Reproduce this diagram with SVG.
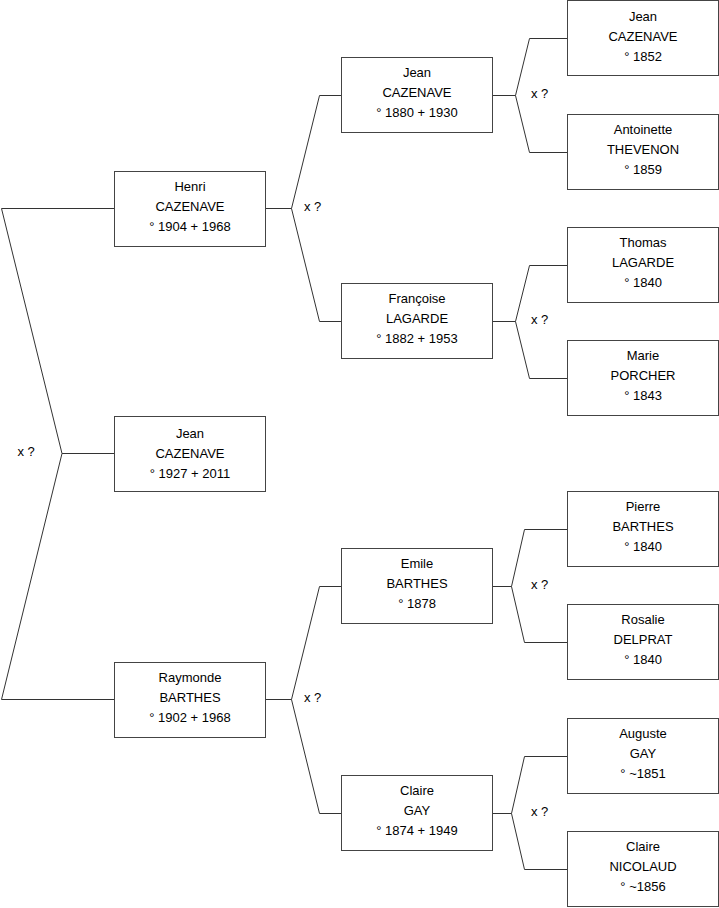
<svg xmlns="http://www.w3.org/2000/svg" width="719" height="908" viewBox="0 0 719 908">
<style>
.box{fill:#fff;stroke:#444;stroke-width:1}
.c{fill:none;stroke:#333;stroke-width:1}
text{font-family:"Liberation Sans",Arial,sans-serif;font-size:13px;fill:#000}
.n text{text-anchor:middle}
</style>
<rect width="719" height="908" fill="#fff"/>
<g id="connectors">
<path class="c" d="M114,208.5 H1.5 L62,453.5 L1.5,699.5 H114 M62,453.5 H114"/>
<path class="c" d="M265,208.5 H291.5 L319.5,95.5 H341 M291.5,208.5 L319.5,321.5 H341"/>
<path class="c" d="M265,699.5 H291.5 L319.5,586.5 H341 M291.5,699.5 L319.5,813.5 H341"/>
<path class="c" d="M492,95.5 H515.5 L529.5,38.5 H567 M515.5,95.5 L529.5,152.5 H567"/>
<path class="c" d="M492,321.5 H515.5 L529.5,265.5 H567 M515.5,321.5 L529.5,378.5 H567"/>
<path class="c" d="M492,586.5 H511.5 L524.5,529.5 H567 M511.5,586.5 L524.5,642.5 H567"/>
<path class="c" d="M492,813.5 H511.5 L524.5,756.5 H567 M511.5,813.5 L524.5,869.5 H567"/>
<text x="17.5" y="456">x ?</text>
<text x="304" y="211">x ?</text>
<text x="304" y="702">x ?</text>
<text x="531" y="98">x ?</text>
<text x="531" y="324">x ?</text>
<text x="531" y="589">x ?</text>
<text x="531" y="816">x ?</text>
</g>
<g id="henri" class="n"><rect class="box" x="114.5" y="171.5" width="151" height="75"/><text x="190" y="191">Henri</text><text x="190" y="211">CAZENAVE</text><text x="190" y="231">° 1904 + 1968</text></g>
<g id="jean1927" class="n"><rect class="box" x="114.5" y="416.5" width="151" height="75"/><text x="190" y="438">Jean</text><text x="190" y="458">CAZENAVE</text><text x="190" y="478">° 1927 + 2011</text></g>
<g id="raymonde" class="n"><rect class="box" x="114.5" y="662.5" width="151" height="75"/><text x="190" y="682">Raymonde</text><text x="190" y="702">BARTHES</text><text x="190" y="722">° 1902 + 1968</text></g>
<g id="jean1880" class="n"><rect class="box" x="341.5" y="57.5" width="151" height="75"/><text x="417" y="77">Jean</text><text x="417" y="97">CAZENAVE</text><text x="417" y="117">° 1880 + 1930</text></g>
<g id="francoise" class="n"><rect class="box" x="341.5" y="283.5" width="151" height="75"/><text x="417" y="303">Françoise</text><text x="417" y="323">LAGARDE</text><text x="417" y="343">° 1882 + 1953</text></g>
<g id="emile" class="n"><rect class="box" x="341.5" y="548.5" width="151" height="75"/><text x="417" y="568">Emile</text><text x="417" y="588">BARTHES</text><text x="417" y="608">° 1878</text></g>
<g id="clairegay" class="n"><rect class="box" x="341.5" y="775.5" width="151" height="75"/><text x="417" y="795">Claire</text><text x="417" y="815">GAY</text><text x="417" y="835">° 1874 + 1949</text></g>
<g id="jean1852" class="n"><rect class="box" x="567.5" y="0.5" width="151" height="75"/><text x="643" y="21">Jean</text><text x="643" y="41">CAZENAVE</text><text x="643" y="61">° 1852</text></g>
<g id="antoinette" class="n"><rect class="box" x="567.5" y="114.5" width="151" height="75"/><text x="643" y="134">Antoinette</text><text x="643" y="154">THEVENON</text><text x="643" y="174">° 1859</text></g>
<g id="thomas" class="n"><rect class="box" x="567.5" y="227.5" width="151" height="75"/><text x="643" y="247">Thomas</text><text x="643" y="267">LAGARDE</text><text x="643" y="287">° 1840</text></g>
<g id="marie" class="n"><rect class="box" x="567.5" y="340.5" width="151" height="75"/><text x="643" y="360">Marie</text><text x="643" y="380">PORCHER</text><text x="643" y="400">° 1843</text></g>
<g id="pierre" class="n"><rect class="box" x="567.5" y="491.5" width="151" height="75"/><text x="643" y="511">Pierre</text><text x="643" y="531">BARTHES</text><text x="643" y="551">° 1840</text></g>
<g id="rosalie" class="n"><rect class="box" x="567.5" y="604.5" width="151" height="75"/><text x="643" y="624">Rosalie</text><text x="643" y="644">DELPRAT</text><text x="643" y="664">° 1840</text></g>
<g id="auguste" class="n"><rect class="box" x="567.5" y="718.5" width="151" height="75"/><text x="643" y="738">Auguste</text><text x="643" y="758">GAY</text><text x="643" y="778">° ~1851</text></g>
<g id="clairenicolaud" class="n"><rect class="box" x="567.5" y="831.5" width="151" height="75"/><text x="643" y="851">Claire</text><text x="643" y="871">NICOLAUD</text><text x="643" y="891">° ~1856</text></g>
</svg>
